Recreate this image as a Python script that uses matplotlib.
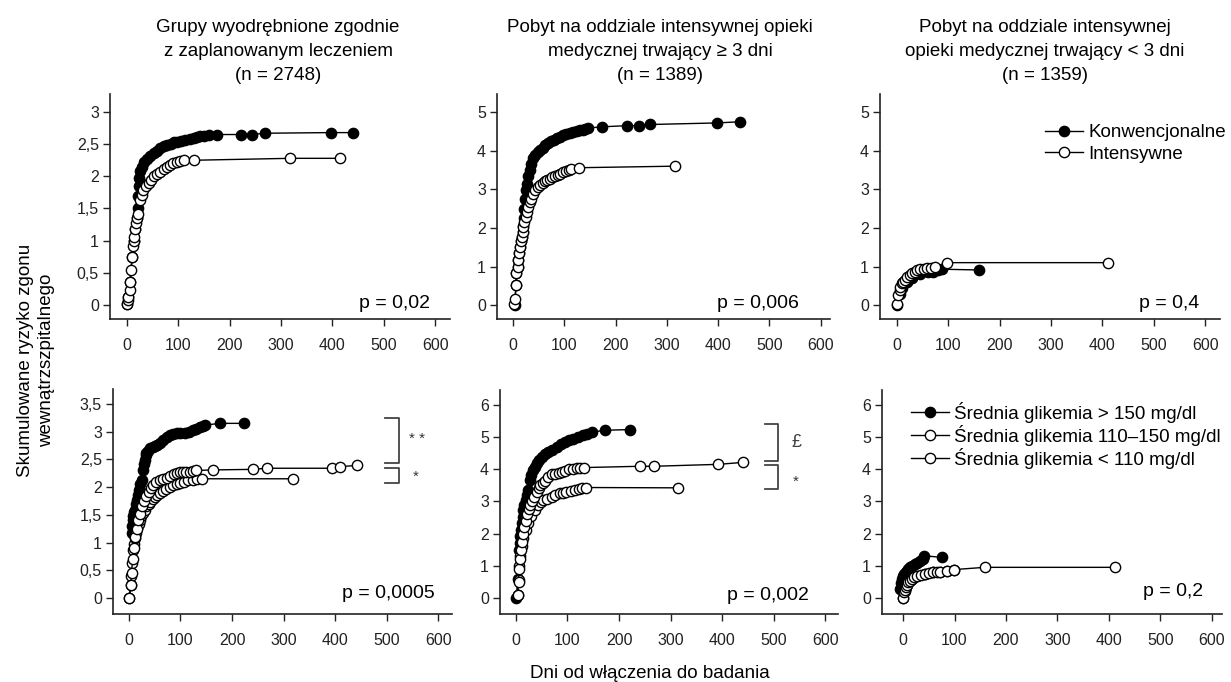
import matplotlib
matplotlib.use("Agg")
import matplotlib.pyplot as plt
from matplotlib.lines import Line2D

plt.rcParams["font.family"] = ["Liberation Sans Narrow", "Liberation Sans", "DejaVu Sans"]

W, H = 1231, 682

# ---- data ----
titles = [
    "Grupy wyodrębnione zgodnie\nz zaplanowanym leczeniem\n(n = 2748)",
    "Pobyt na oddziale intensywnej opieki\nmedycznej trwający \u2265 3 dni\n(n = 1389)",
    "Pobyt na oddziale intensywnej\nopieki medycznej trwający < 3 dni\n(n = 1359)",
]
pvals = ["p = 0,02", "p = 0,006", "p = 0,4", "p = 0,0005", "p = 0,002", "p = 0,2"]

xticks = [0, 100, 200, 300, 400, 500, 600]
yticks_a = [0, 0.5, 1, 1.5, 2, 2.5, 3]
yticks_a_lab = ["0", "0,5", "1", "1,5", "2", "2,5", "3"]
yticks_d = [0, 0.5, 1, 1.5, 2, 2.5, 3, 3.5]
yticks_d_lab = ["0", "0,5", "1", "1,5", "2", "2,5", "3", "3,5"]
yticks_5 = [0, 1, 2, 3, 4, 5]
yticks_6 = [0, 1, 2, 3, 4, 5, 6]

# top-left
p1_conv_x = [0, 3, 6, 10, 13, 16, 19, 21, 22, 23, 24, 26, 29, 34, 39, 45, 52, 58, 65, 72, 78,
             85, 92, 97, 105, 114, 122, 130, 137, 143, 150, 160, 175, 222, 243, 269, 397, 441]
p1_conv_y = [0.02, 0.13, 0.36, 0.75, 1.0, 1.18, 1.35, 1.5, 1.7, 1.85, 1.98, 2.08, 2.15, 2.22,
             2.27, 2.32, 2.37, 2.4, 2.44, 2.47, 2.49, 2.51, 2.53, 2.54, 2.55, 2.56, 2.58, 2.59,
             2.61, 2.63, 2.63, 2.64, 2.65, 2.65, 2.65, 2.67, 2.68, 2.68]
p1_int_x = [0, 2, 3, 5, 6, 8, 10, 12, 13, 14, 16, 18, 19, 22, 26, 29, 32, 37, 42, 47, 52, 58,
            65, 72, 78, 84, 90, 97, 104, 112, 130, 318, 414]
p1_int_y = [0.02, 0.08, 0.13, 0.23, 0.36, 0.54, 0.75, 0.91, 1.0, 1.06, 1.18, 1.27, 1.35, 1.42,
            1.63, 1.71, 1.79, 1.85, 1.89, 1.95, 2.0, 2.04, 2.07, 2.12, 2.15, 2.18, 2.2, 2.23,
            2.24, 2.25, 2.25, 2.28, 2.28]

# top-middle
p2_conv_x = [4, 6, 7, 9, 10, 12, 14, 16, 17, 19, 20, 21, 22, 23, 25, 27, 30, 33, 36, 40, 44,
             48, 53, 58, 63, 68, 74, 80, 85, 92, 98, 104, 111, 118, 124, 130, 136, 141, 147,
             174, 223, 246, 268, 397, 442]
p2_conv_y = [0, 0.52, 0.82, 1.0, 1.17, 1.35, 1.51, 1.65, 1.77, 1.9, 2.05, 2.25, 2.5, 2.75,
             2.98, 3.15, 3.35, 3.5, 3.65, 3.8, 3.9, 3.97, 4.02, 4.08, 4.15, 4.19, 4.24, 4.28,
             4.32, 4.36, 4.4, 4.43, 4.45, 4.48, 4.5, 4.53, 4.55, 4.57, 4.59, 4.62, 4.65, 4.65,
             4.68, 4.72, 4.75]
p2_int_x = [2, 4, 6, 7, 9, 10, 12, 14, 16, 17, 19, 20, 22, 25, 27, 30, 33, 36, 40, 43, 48, 53,
            58, 62, 67, 72, 77, 82, 87, 92, 98, 103, 109, 114, 129, 316]
p2_int_y = [0.04, 0.17, 0.52, 0.82, 1.0, 1.17, 1.35, 1.51, 1.65, 1.77, 1.9, 2.03, 2.15, 2.29,
            2.42, 2.55, 2.66, 2.76, 2.88, 2.98, 3.05, 3.11, 3.17, 3.22, 3.25, 3.28, 3.31, 3.34,
            3.37, 3.41, 3.44, 3.48, 3.5, 3.52, 3.56, 3.6]

# top-right
p3_conv_x = [0, 5, 10, 20, 30, 45, 60, 71, 80, 87, 160]
p3_conv_y = [0, 0.3, 0.45, 0.6, 0.7, 0.8, 0.85, 0.86, 0.9, 0.93, 0.91]
p3_int_x = [0, 3, 5, 6, 9, 12, 16, 20, 25, 30, 35, 40, 45, 52, 58, 66, 74, 97, 410]
p3_int_y = [0.02, 0.26, 0.4, 0.47, 0.56, 0.6, 0.65, 0.72, 0.78, 0.82, 0.86, 0.9, 0.93, 0.94,
            0.95, 0.96, 0.99, 1.10, 1.10]

# bottom-left
p4_hi_x = [5, 6, 7, 8, 10, 12, 14, 16, 18, 20, 22, 25, 28, 30, 31, 33, 34, 37, 41, 46, 50, 54,
           60, 67, 73, 80, 86, 93, 100, 109, 117, 125, 131, 138, 143, 148, 177, 223]
p4_hi_y = [1.17, 1.29, 1.4, 1.47, 1.55, 1.59, 1.7, 1.77, 1.85, 1.95, 2.05, 2.13, 2.31, 2.42,
           2.49, 2.58, 2.61, 2.66, 2.7, 2.72, 2.74, 2.76, 2.8, 2.85, 2.9, 2.94, 2.95, 2.97, 2.97,
           2.97, 3.0, 3.03, 3.05, 3.09, 3.1, 3.12, 3.15, 3.15]
p4_mid_x = [1, 3, 5, 7, 9, 12, 15, 18, 22, 26, 30, 34, 38, 42, 47, 53, 60, 66, 73, 80, 87, 93,
            99, 105, 111, 118, 124, 131, 163, 241, 267, 395, 410, 442]
p4_mid_y = [0, 0.24, 0.45, 0.7, 0.9, 1.1, 1.25, 1.4, 1.52, 1.65, 1.75, 1.84, 1.92, 1.98, 2.04,
            2.1, 2.13, 2.15, 2.16, 2.2, 2.23, 2.25, 2.27, 2.28, 2.28, 2.28, 2.29, 2.3, 2.31,
            2.32, 2.34, 2.34, 2.37, 2.39]
p4_low_x = [1, 3, 4, 6, 8, 10, 12, 14, 16, 19, 21, 24, 28, 31, 34, 38, 41, 46, 50, 55, 60, 66,
            72, 79, 86, 93, 99, 107, 115, 125, 133, 141, 319]
p4_low_y = [0, 0.24, 0.39, 0.63, 0.87, 0.98, 1.08, 1.17, 1.26, 1.34, 1.41, 1.47, 1.53, 1.59,
            1.65, 1.7, 1.74, 1.78, 1.82, 1.86, 1.89, 1.93, 1.96, 2.0, 2.03, 2.05, 2.07, 2.1,
            2.12, 2.13, 2.14, 2.15, 2.15]

# bottom-middle
p5_hi_x = [1, 3, 5, 7, 8, 10, 11, 13, 14, 16, 19, 21, 24, 27, 30, 34, 37, 40, 45, 50, 56, 63,
           70, 79, 87, 95, 103, 111, 120, 131, 138, 147, 173, 221]
p5_hi_y = [0, 0.6, 1.49, 1.7, 1.91, 2.1, 2.32, 2.5, 2.73, 2.9, 3.04, 3.2, 3.35, 3.66, 3.82,
           3.97, 4.08, 4.18, 4.3, 4.38, 4.46, 4.54, 4.61, 4.69, 4.77, 4.85, 4.9, 4.95, 5.0,
           5.05, 5.1, 5.15, 5.21, 5.23]
p5_mid_x = [3, 5, 6, 8, 10, 12, 14, 16, 19, 22, 25, 28, 31, 35, 40, 44, 47, 52, 56, 62, 69, 76,
            83, 89, 96, 102, 110, 118, 125, 132, 241, 267, 393, 440]
p5_mid_y = [0.1, 0.5, 0.9, 1.2, 1.5, 1.75, 2.0, 2.2, 2.4, 2.6, 2.75, 2.9, 3.0, 3.15, 3.3,
            3.42, 3.51, 3.58, 3.64, 3.75, 3.85, 3.86, 3.88, 3.92, 3.95, 3.99, 4.02, 4.03, 4.04,
            4.05, 4.09, 4.09, 4.15, 4.21]
p5_low_x = [3, 5, 6, 8, 11, 14, 19, 24, 30, 37, 43, 48, 53, 60, 69, 76, 85, 92, 98, 106, 115,
            122, 128, 135, 315]
p5_low_y = [0.1, 0.57, 0.98, 1.29, 1.6, 1.86, 2.11, 2.32, 2.53, 2.73, 2.89, 2.97, 3.04, 3.08,
            3.12, 3.2, 3.25, 3.27, 3.3, 3.33, 3.35, 3.38, 3.4, 3.43, 3.42]

# bottom-right
p6_hi_x = [-6, -5, -3, -1, 2, 5, 7, 10, 14, 18, 23, 28, 33, 38, 41, 75]
p6_hi_y = [0.28, 0.45, 0.59, 0.67, 0.74, 0.8, 0.85, 0.9, 0.95, 1.0, 1.05, 1.1, 1.15, 1.22,
           1.31, 1.26]
p6_mid_x = [0, 2, 4, 6, 8, 10, 13, 17, 22, 27, 35, 43, 50, 58, 65, 72, 85, 99, 159, 412]
p6_mid_y = [0, 0.18, 0.26, 0.33, 0.41, 0.48, 0.54, 0.59, 0.64, 0.69, 0.72, 0.74, 0.77, 0.79,
            0.81, 0.82, 0.85, 0.88, 0.95, 0.95]
p6_low_x = [0, 3, 6, 10, 17, 27, 43, 58, 72, 85, 99]
p6_low_y = [0, 0.2, 0.33, 0.48, 0.59, 0.69, 0.74, 0.79, 0.82, 0.85, 0.87]

legend_top = ["Konwencjonalne", "Intensywne"]
legend_bottom = ["Średnia glikemia > 150 mg/dl", "Średnia glikemia 110–150 mg/dl",
                 "Średnia glikemia < 110 mg/dl"]


def fx(px):
    return px / W


def fy(py):
    return 1 - py / H


def make_axes(fig, left, right, top, bottom):
    return fig.add_axes([fx(left), fy(bottom), (right - left) / W, (bottom - top) / H])


def style_axes(ax, xlim, ylim, yticks, ylabels):
    ax.set_xlim(*xlim)
    ax.set_ylim(*ylim)
    ax.set_xticks(xticks)
    ax.set_xticklabels([str(t) for t in xticks])
    ax.set_yticks(yticks)
    ax.set_yticklabels(ylabels)
    ax.spines["top"].set_visible(False)
    ax.spines["right"].set_visible(False)
    for s in ["left", "bottom"]:
        ax.spines[s].set_linewidth(1.2)
        ax.spines[s].set_color("#222222")
    ax.tick_params(direction="out", length=5, width=1, labelsize=11.5, pad=3, colors="#222222")
    ax.tick_params(axis="x", pad=9)


def series(ax, x, y, filled):
    ax.plot(x, y, "-o", color="black", lw=1, ms=7.4, mew=1,
            mfc="black" if filled else "white", mec="black", clip_on=False)


def bracket(ax, x0, x1, ytop, ybot):
    ax.plot([x0, x1, x1, x0], [ytop, ytop, ybot, ybot], color="#444444", lw=1.3, clip_on=False)


fig = plt.figure(figsize=(W / 100, H / 100), dpi=100)

ax1 = make_axes(fig, 110, 450, 94, 319)
ax2 = make_axes(fig, 497, 830, 94, 319)
ax3 = make_axes(fig, 880, 1220, 94, 319)
ax4 = make_axes(fig, 113, 452, 389, 614)
ax5 = make_axes(fig, 500, 838, 390, 614)
ax6 = make_axes(fig, 882, 1222, 390, 614)

style_axes(ax1, (-33, 629), (-0.218, 3.28), yticks_a, yticks_a_lab)
style_axes(ax2, (-31, 618), (-0.36, 5.47), yticks_5, [str(t) for t in yticks_5])
style_axes(ax3, (-33, 629), (-0.36, 5.47), yticks_5, [str(t) for t in yticks_5])
style_axes(ax4, (-31, 627), (-0.29, 3.77), yticks_d, yticks_d_lab)
style_axes(ax5, (-31, 625), (-0.50, 6.46), yticks_6, [str(t) for t in yticks_6])
style_axes(ax6, (-41, 620), (-0.50, 6.46), yticks_6, [str(t) for t in yticks_6])

series(ax1, p1_conv_x, p1_conv_y, True)
series(ax1, p1_int_x, p1_int_y, False)
series(ax2, p2_conv_x, p2_conv_y, True)
series(ax2, p2_int_x, p2_int_y, False)
series(ax3, p3_conv_x, p3_conv_y, True)
series(ax3, p3_int_x, p3_int_y, False)
series(ax4, p4_hi_x, p4_hi_y, True)
series(ax4, p4_low_x, p4_low_y, False)
series(ax4, p4_mid_x, p4_mid_y, False)
series(ax5, p5_hi_x, p5_hi_y, True)
series(ax5, p5_low_x, p5_low_y, False)
series(ax5, p5_mid_x, p5_mid_y, False)
series(ax6, p6_hi_x, p6_hi_y, True)
series(ax6, p6_low_x, p6_low_y, False)
series(ax6, p6_mid_x, p6_mid_y, False)

# significance brackets
bracket(ax4, 496, 525, 3.24, 2.44)
bracket(ax4, 496, 525, 2.35, 2.07)
ax4.text(559, 2.86, "* *", ha="center", va="center", fontsize=11, color="#333333")
ax4.text(557, 2.19, "*", ha="center", va="center", fontsize=11, color="#333333")
bracket(ax5, 483, 509, 5.41, 4.26)
bracket(ax5, 483, 509, 4.12, 3.38)
ax5.text(545, 4.82, "£", ha="center", va="center", fontsize=13, color="#444444")
ax5.text(542, 3.6, "*", ha="center", va="center", fontsize=11, color="#333333")

# p-values
p_pos = [(430, 303), (799, 303), (1199, 303), (435, 593), (809, 595), (1203, 592)]
for (px, py), txt in zip(p_pos, pvals):
    fig.text(fx(px), fy(py), txt, ha="right", va="center", fontsize=14)

# column titles
for cx, t in zip([278, 660, 1045], titles):
    fig.text(fx(cx), fy(19), t, ha="center", va="top", fontsize=13.5, linespacing=1.55)

fig.text(fx(36), fy(360), "Skumulowane ryzyko zgonu\nwewnątrzszpitalnego", rotation=90,
         ha="center", va="center", fontsize=13.5, linespacing=1.35)
fig.text(fx(650), fy(673), "Dni od włączenia do badania", ha="center", va="center", fontsize=13.5)

# legends
def handle(filled):
    return Line2D([], [], color="black", lw=1, marker="o", ms=7.4, mew=1,
                  mfc="black" if filled else "white", mec="black")


fig.legend([handle(True), handle(False)], legend_top, loc="upper left",
           bbox_to_anchor=(fx(1045), fy(124)), frameon=False, fontsize=13.5,
           handlelength=2.0, handletextpad=0.3, labelspacing=0.25, borderpad=0, borderaxespad=0)
fig.legend([handle(True), handle(False), handle(False)], legend_bottom, loc="upper left",
           bbox_to_anchor=(fx(911), fy(402)), frameon=False, fontsize=13.5,
           handlelength=2.0, handletextpad=0.3, labelspacing=0.1, borderpad=0, borderaxespad=0)

fig.savefig("out.png", dpi=100)
